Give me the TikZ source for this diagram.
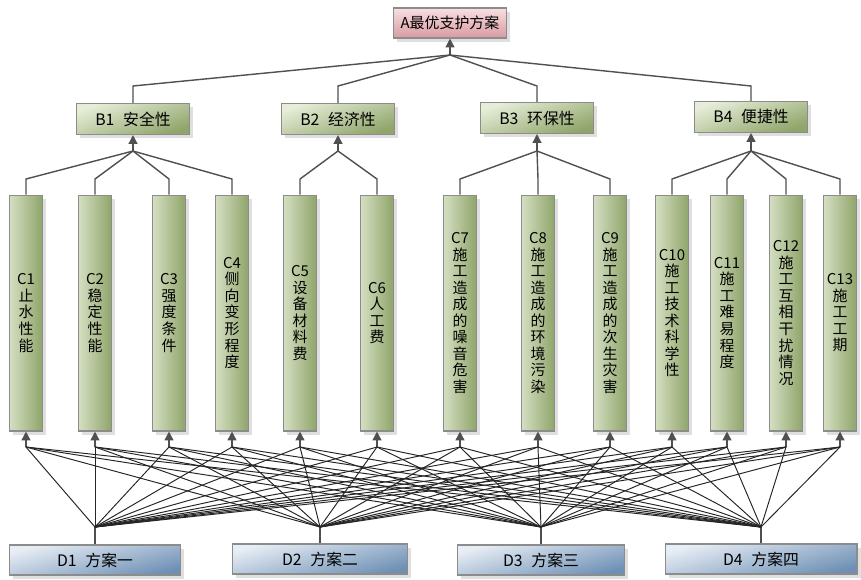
\documentclass[tikz,border=0pt]{standalone}
\usepackage{fontspec}
\newfontfamily\cjk{Noto Sans CJK SC}
\usetikzlibrary{arrows.meta, shadows}

\definecolor{greenL}{HTML}{E6EDD8}
\definecolor{greenD}{HTML}{8FA56A}
\definecolor{pinkL}{HTML}{F7DFE2}
\definecolor{pinkD}{HTML}{D89AA1}
\definecolor{blueL}{HTML}{E8EEF5}
\definecolor{blueD}{HTML}{6E90B5}
\definecolor{boxedge}{HTML}{8C8C8C}
\definecolor{linegray}{HTML}{505050}

\newcommand{\gap}{\hspace{0.55em}}

\tikzset{
	box/.style={draw=boxedge, line width=0.6pt, inner sep=0pt,
		drop shadow={shadow xshift=2pt, shadow yshift=-2pt, opacity=0.25}},
	topbox/.style={box, top color=pinkL, bottom color=pinkD,
		minimum width=2.26cm, minimum height=0.6cm,
		font=\cjk\fontsize{8.5}{10}\selectfont},
	critbox/.style={box, top color=greenL, bottom color=greenD, shading angle=20,
		minimum width=2.26cm, minimum height=0.62cm,
		font=\cjk\fontsize{9}{10}\selectfont},
	subbox/.style={box, left color=greenL!80!greenD, right color=greenD,
		minimum width=0.66cm, minimum height=4.72cm, align=center,
		font=\cjk\fontsize{8.5}{9.4}\selectfont},
	planbox/.style={box, top color=blueL, bottom color=blueD, shading angle=15,
		minimum height=0.6cm, font=\cjk\fontsize{9}{10}\selectfont},
	tree/.style={draw=linegray, line width=0.8pt},
	mesh/.style={draw=black!85, line width=0.55pt},
	arr/.style={tree, -{Triangle[length=5pt, width=5pt]}}
}

\begin{document}
\begin{tikzpicture}[x=0.02cm, y=-0.02cm]
	
	\useasboundingbox (0,0) rectangle (861,579);
	
	% goal
	\node[topbox] (A) at (450,23) {A最优支护方案};
	
	% criteria
	\node[critbox] (B1) at (133,119) {B1\gap 安全性};
	\node[critbox] (B2) at (338,119) {B2\gap 经济性};
	\node[critbox] (B3) at (537,118) {B3\gap 环保性};
	\node[critbox] (B4) at (751,117) {B4\gap 便捷性};
	
	% sub-criteria
	\foreach \n/\x/\t in {1/26/{C1\\止\\水\\性\\能},
			2/95/{C2\\稳\\定\\性\\能},
			3/169/{C3\\强\\度\\条\\件},
			4/232/{C4\\侧\\向\\变\\形\\程\\度},
			5/300/{C5\\设\\备\\材\\料\\费},
			6/377/{C6\\人\\工\\费},
			7/460/{C7\\施\\工\\造\\成\\的\\噪\\音\\危\\害},
			8/538/{C8\\施\\工\\造\\成\\的\\环\\境\\污\\染},
			9/610/{C9\\施\\工\\造\\成\\的\\次\\生\\灾\\害},
			10/672/{C10\\施\\工\\技\\术\\科\\学\\性},
			11/727/{C11\\施\\工\\难\\易\\程\\度},
			12/786/{C12\\施\\工\\互\\相\\干\\扰\\情\\况},
			13/840/{C13\\施\\工\\工\\期}}
	\node[subbox] (C\n) at (\x,313) {\t};
	
	% alternatives
	\node[planbox, minimum width=3.42cm] (D1) at (95,560) {D1\gap 方案一};
	\node[planbox, minimum width=3.5cm] (D2) at (320,559) {D2\gap 方案二};
	\node[planbox, minimum width=3.34cm] (D3) at (541,560) {D3\gap 方案三};
	\node[planbox, minimum width=3.84cm] (D4) at (761,559) {D4\gap 方案四};
	
	% levels of the branch points
	\coordinate (jA) at (450,55);
	\coordinate (elbowB) at (0,86);
	\coordinate (jBy) at (0,151);
	\coordinate (elbowC) at (0,179);
	\coordinate (busC) at (0,447);
	\coordinate (jDy) at (0,527);
	
	% A <- B
	\draw[arr] (jA) -- (A.south);
	\foreach \b in {1,...,4}{
		\coordinate (eB\b) at (B\b.north |- elbowB);
		\draw[tree] (jA) -- (eB\b) -- (B\b.north);
	}
	
	% B <- C
	\foreach \b in {1,...,4}{
		\coordinate (jB\b) at (B\b.south |- jBy);
		\draw[arr] (jB\b) -- (B\b.south);
	}
	\foreach \n/\b in {1/1,2/1,3/1,4/1,5/2,6/2,7/3,8/3,9/3,10/4,11/4,12/4,13/4}{
		\coordinate (eC\n) at (C\n.north |- elbowC);
		\draw[tree] (jB\b) -- (eC\n) -- (C\n.north);
	}
	
	% C <- D
	\foreach \n in {1,...,13}{
		\coordinate (p\n) at (C\n.south |- busC);
		\draw[arr] (p\n) -- (C\n.south);
	}
	\foreach \d in {1,...,4}{
		\coordinate (jD\d) at (D\d.north |- jDy);
		\draw[tree] (D\d.north) -- (jD\d);
		\foreach \n in {1,...,13}
		\draw[mesh] (jD\d) -- (p\n);
	}
	
\end{tikzpicture}
\end{document}
